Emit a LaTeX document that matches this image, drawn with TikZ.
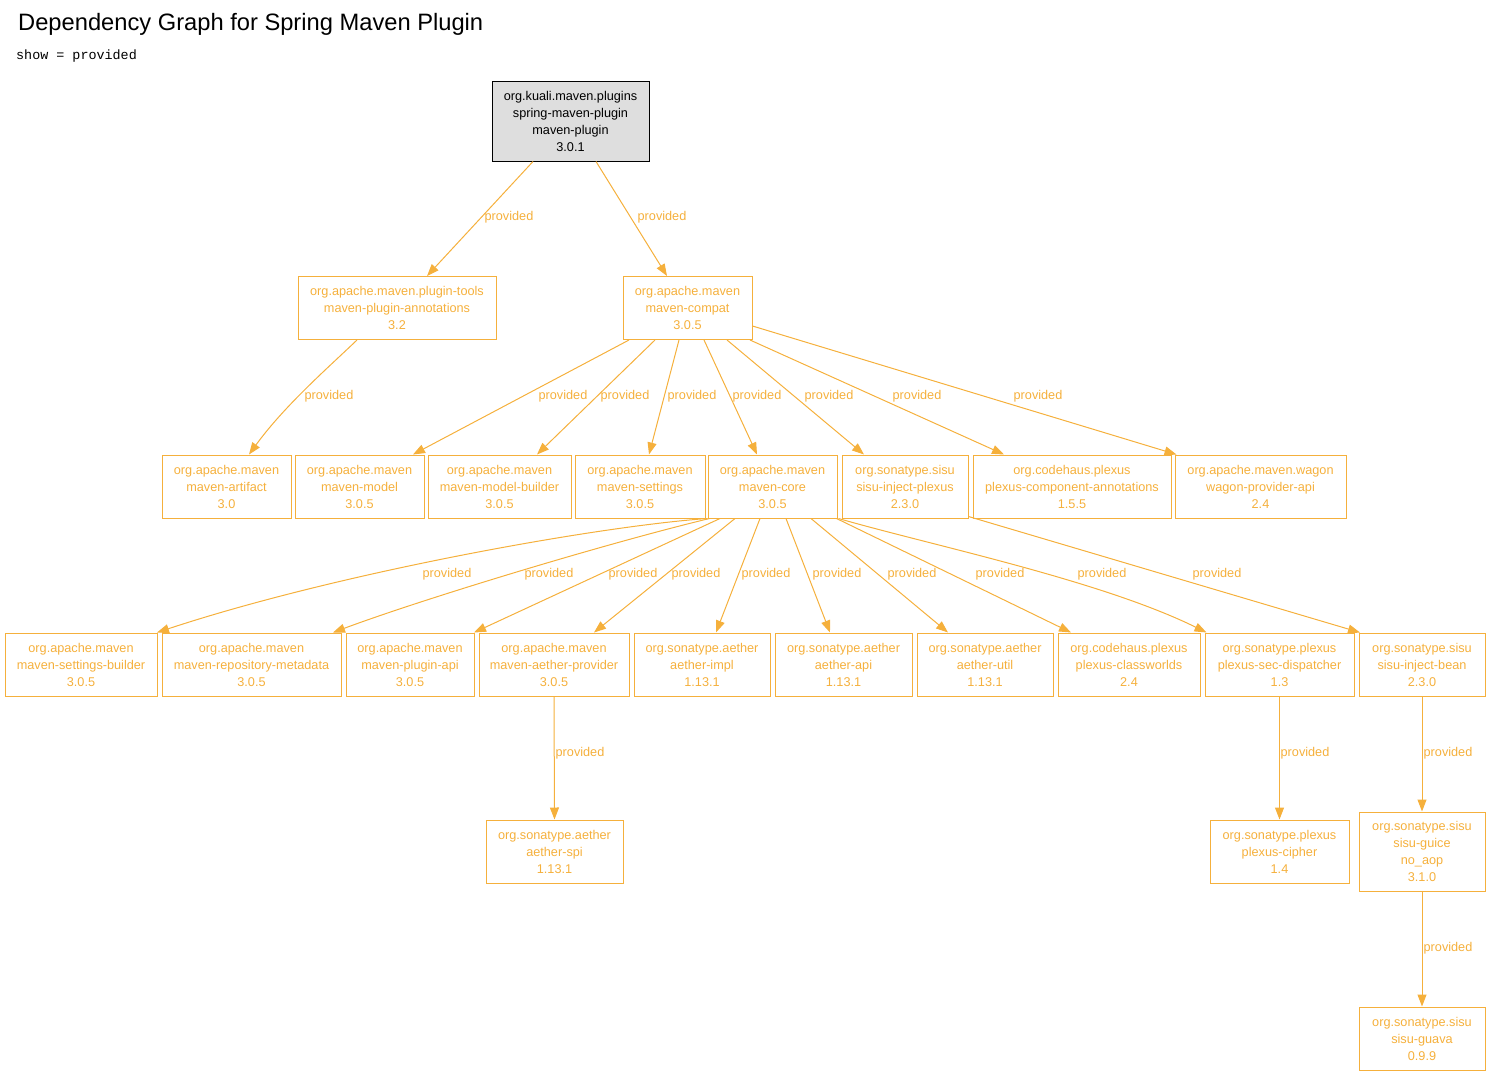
\documentclass[tikz,border=0pt]{standalone}
\usepackage{fontspec}
\setmainfont{Liberation Sans}
\setmonofont{Liberation Mono}
\usetikzlibrary{arrows.meta}
\definecolor{dep}{RGB}{245,176,60}
\begin{document}
\begin{tikzpicture}[x=1pt,y=-1pt,
  box/.style={draw=dep, text=dep, line width=1pt, inner sep=0pt, align=center,
    font=\fontsize{12.7}{17}\selectfont, minimum height=63pt},
  rootbox/.style={box, draw=black, fill=black!13, text=black, minimum height=80pt, line width=1pt},
  dedge/.style={draw=dep, line width=1pt, -{Triangle[length=12pt,width=9pt]}},
  lbl/.style={text=dep, font=\fontsize{12.7}{15}\selectfont, inner sep=0pt}]
\useasboundingbox (0,0) rectangle (1491,1076);
\node[anchor=base west, font=\fontsize{23.7}{28}\selectfont, inner sep=0pt] (title) at (18,30) {Dependency Graph for Spring Maven Plugin};
\node[anchor=base west, font=\ttfamily\fontsize{13.4}{15}\selectfont, inner sep=0pt] (sub) at (16,59) {show = provided};

% nodes
\node[rootbox, minimum width=157pt] (root) at (570.5,121) {org.kuali.maven.plugins\\spring-maven-plugin\\maven-plugin\\3.0.1};
\node[box, minimum width=198pt] (annot) at (397,308) {org.apache.maven.plugin-tools\\maven-plugin-annotations\\3.2};
\node[box, minimum width=129pt] (compat) at (687.5,308) {org.apache.maven\\maven-compat\\3.0.5};

\node[box, minimum width=129pt] (artifact) at (226.5,486.5) {org.apache.maven\\maven-artifact\\3.0};
\node[box, minimum width=129pt] (model) at (359.5,486.5) {org.apache.maven\\maven-model\\3.0.5};
\node[box, minimum width=143pt] (mbuilder) at (499.5,486.5) {org.apache.maven\\maven-model-builder\\3.0.5};
\node[box, minimum width=130pt] (settings) at (640,486.5) {org.apache.maven\\maven-settings\\3.0.5};
\node[box, minimum width=129pt] (core) at (772.5,486.5) {org.apache.maven\\maven-core\\3.0.5};
\node[box, minimum width=126pt] (sisuplexus) at (905,486.5) {org.sonatype.sisu\\sisu-inject-plexus\\2.3.0};
\node[box, minimum width=198pt] (pcannot) at (1072,486.5) {org.codehaus.plexus\\plexus-component-annotations\\1.5.5};
\node[box, minimum width=171pt] (wagon) at (1260.5,486.5) {org.apache.maven.wagon\\wagon-provider-api\\2.4};

\node[box, minimum width=152pt] (sbuilder) at (81,664.5) {org.apache.maven\\maven-settings-builder\\3.0.5};
\node[box, minimum width=179pt] (repometa) at (251.5,664.5) {org.apache.maven\\maven-repository-metadata\\3.0.5};
\node[box, minimum width=128pt] (pluginapi) at (410,664.5) {org.apache.maven\\maven-plugin-api\\3.0.5};
\node[box, minimum width=150pt] (aprov) at (554,664.5) {org.apache.maven\\maven-aether-provider\\3.0.5};
\node[box, minimum width=136pt] (aimpl) at (702,664.5) {org.sonatype.aether\\aether-impl\\1.13.1};
\node[box, minimum width=137pt] (aapi) at (843.5,664.5) {org.sonatype.aether\\aether-api\\1.13.1};
\node[box, minimum width=136pt] (autil) at (985,664.5) {org.sonatype.aether\\aether-util\\1.13.1};
\node[box, minimum width=142pt] (classw) at (1129,664.5) {org.codehaus.plexus\\plexus-classworlds\\2.4};
\node[box, minimum width=149pt] (secdisp) at (1279.5,664.5) {org.sonatype.plexus\\plexus-sec-dispatcher\\1.3};
\node[box, minimum width=126pt] (ibean) at (1422,664.5) {org.sonatype.sisu\\sisu-inject-bean\\2.3.0};

\node[box, minimum width=137pt] (aspi) at (554.5,851.5) {org.sonatype.aether\\aether-spi\\1.13.1};
\node[box, minimum width=139pt] (cipher) at (1279.5,851.5) {org.sonatype.plexus\\plexus-cipher\\1.4};
\node[box, minimum width=126pt, minimum height=79pt] (guice) at (1422,851.5) {org.sonatype.sisu\\sisu-guice\\no\_aop\\3.1.0};
\node[box, minimum width=126pt] (guava) at (1422,1038.5) {org.sonatype.sisu\\sisu-guava\\0.9.9};

% edges
\draw[dedge] ([xshift=-37.5pt]root.south) -- ([xshift=30pt]annot.north) node[lbl, at={(509,217)}] {provided};
\draw[dedge] ([xshift=25.5pt]root.south) -- ([xshift=-20.5pt]compat.north) node[lbl, at={(662,217)}] {provided};
\draw[dedge] ([xshift=-40pt]annot.south) .. controls (330,366) and (285,405) .. ([xshift=22.5pt]artifact.north) node[lbl, at={(329,396)}] {provided};

\draw[dedge] ([xshift=-58.5pt]compat.south) -- ([xshift=53.5pt]model.north) node[lbl, at={(563,396)}] {provided};
\draw[dedge] ([xshift=-32.5pt]compat.south) -- ([xshift=37.5pt]mbuilder.north) node[lbl, at={(625,396)}] {provided};
\draw[dedge] ([xshift=-8.5pt]compat.south) -- ([xshift=9pt]settings.north) node[lbl, at={(692,396)}] {provided};
\draw[dedge] ([xshift=16.5pt]compat.south) -- ([xshift=-15.5pt]core.north) node[lbl, at={(757,396)}] {provided};
\draw[dedge] ([xshift=39.5pt]compat.south) -- ([xshift=-41pt]sisuplexus.north) node[lbl, at={(829,396)}] {provided};
\draw[dedge] ([xshift=62.5pt]compat.south) -- ([xshift=-68pt]pcannot.north) node[lbl, at={(917,396)}] {provided};
\draw[dedge] ([yshift=-18pt]compat.east) -- ([xshift=-84pt]wagon.north) node[lbl, at={(1038,396)}] {provided};

\draw[dedge] (core.south west) .. controls (600,526) and (340,572) .. ([xshift=76pt]sbuilder.north) node[lbl, at={(447,574)}] {provided};
\draw[dedge] ([xshift=2pt]core.south west) .. controls (600,545) and (420,600) .. ([xshift=81.5pt]repometa.north) node[lbl, at={(549,574)}] {provided};
\draw[dedge] ([xshift=-52.5pt]core.south) -- ([xshift=64pt]pluginapi.north) node[lbl, at={(633,574)}] {provided};
\draw[dedge] ([xshift=-37.5pt]core.south) -- ([xshift=40pt]aprov.north) node[lbl, at={(696,574)}] {provided};
\draw[dedge] ([xshift=-12.5pt]core.south) -- ([xshift=14pt]aimpl.north) node[lbl, at={(766,574)}] {provided};
\draw[dedge] ([xshift=13.5pt]core.south) -- ([xshift=-13.5pt]aapi.north) node[lbl, at={(837,574)}] {provided};
\draw[dedge] ([xshift=38.5pt]core.south) -- ([xshift=-37pt]autil.north) node[lbl, at={(912,574)}] {provided};
\draw[dedge] ([xshift=64pt]core.south) -- ([xshift=-58pt]classw.north) node[lbl, at={(1000,574)}] {provided};
\draw[dedge] ([xshift=1pt]core.south east) .. controls (930,545) and (1100,580) .. ([xshift=-73pt]secdisp.north) node[lbl, at={(1102,574)}] {provided};
\draw[dedge] ([yshift=2pt]sisuplexus.south east) -- ([xshift=-62pt]ibean.north) node[lbl, at={(1217,574)}] {provided};

\draw[dedge] (aprov.south) -- (aspi.north) node[lbl, at={(580,753)}] {provided};
\draw[dedge] (secdisp.south) -- (cipher.north) node[lbl, at={(1305,753)}] {provided};
\draw[dedge] (ibean.south) -- (guice.north) node[lbl, at={(1448,753)}] {provided};
\draw[dedge] (guice.south) -- (guava.north) node[lbl, at={(1448,948)}] {provided};
\end{tikzpicture}
\end{document}
